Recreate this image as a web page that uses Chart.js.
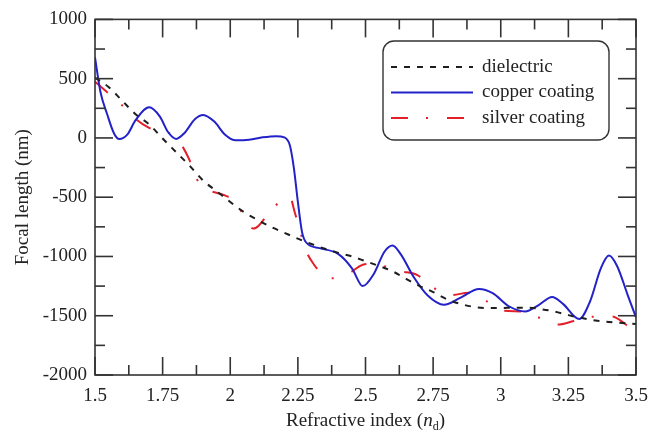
<!DOCTYPE html>
<html>
<head>
<meta charset="utf-8">
<script src="https://cdn.jsdelivr.net/npm/chart.js@4.4.1/dist/chart.umd.min.js"></script>
<style>
  html, body { margin: 0; padding: 0; background: #fff; }
  #wrap { width: 659px; height: 433px; }
</style>
</head>
<body>
<div id="wrap"><canvas id="chart" width="659" height="433"></canvas></div>
<script>
// tick labels
const xTicks = [1.5, 1.75, 2, 2.25, 2.5, 2.75, 3, 3.25, 3.5];
const xTickLabels = ['1.5', '1.75', '2', '2.25', '2.5', '2.75', '3', '3.25', '3.5'];
const yTicks = [-2000, -1500, -1000, -500, 0, 500, 1000];
const yTickLabels = ['-2000', '-1500', '-1000', '-500', '0', '500', '1000'];

// dielectric
const dielN = [1.5, 1.55, 1.6, 1.65, 1.7, 1.75, 1.8, 1.85, 1.9, 1.95, 2.0, 2.05, 2.1, 2.15, 2.2, 2.25, 2.3, 2.35, 2.4, 2.45,
  2.5, 2.55, 2.6, 2.65, 2.7, 2.75, 2.8, 2.85, 2.9, 2.95, 3.0, 3.05, 3.1, 3.15, 3.2, 3.25, 3.3, 3.35, 3.4, 3.45, 3.5];
const dielF = [510, 430, 315, 200, 115, -5, -120, -235, -360, -450, -540, -625, -690, -750, -800, -850, -895, -935, -970, -1000,
  -1040, -1080, -1125, -1190, -1250, -1300, -1360, -1400, -1425, -1435, -1435, -1432, -1432, -1445, -1465, -1495, -1520, -1540, -1553, -1562, -1570];

// copper coating
const copperN = [1.5, 1.52, 1.545, 1.57, 1.59, 1.62, 1.65, 1.7, 1.74, 1.77, 1.8, 1.83, 1.87, 1.9, 1.94, 1.98, 2.02, 2.07, 2.12, 2.17,
  2.2, 2.22, 2.235, 2.25, 2.265, 2.28, 2.33, 2.4, 2.45, 2.49, 2.53, 2.57, 2.6, 2.63, 2.68, 2.73, 2.79, 2.85, 2.92, 2.97,
  3.03, 3.09, 3.14, 3.19, 3.23, 3.29, 3.33, 3.37, 3.4, 3.43, 3.47, 3.5];
const copperF = [680, 390, 200, 40, -10, 30, 150, 258, 180, 50, -8, 40, 160, 194, 140, 30, -20, -15, 5, 15,
  5, -60, -250, -540, -790, -880, -930, -980, -1100, -1250, -1150, -960, -908, -980, -1180, -1330, -1408, -1350, -1275, -1310,
  -1420, -1464, -1410, -1342, -1400, -1528, -1380, -1100, -992, -1080, -1330, -1514];

// silver coating
const silverN = [1.5, 1.54, 1.6, 1.65, 1.7, 1.74, 1.78, 1.82, 1.85, 1.875, 1.9, 1.93, 1.98, 2.02, 2.06, 2.085, 2.105, 2.14, 2.17, 2.2,
  2.22, 2.24, 2.26, 2.28, 2.31, 2.34, 2.37, 2.4, 2.44, 2.49, 2.53, 2.58, 2.63, 2.69, 2.75, 2.79, 2.82, 2.88, 2.92, 2.95,
  3.01, 3.08, 3.14, 3.21, 3.27, 3.34, 3.41, 3.46, 3.48];
const silverF = [475, 395, 275, 160, 85, 55, 35, -60, -190, -340, -420, -450, -485, -540, -700, -765, -740, -640, -565, -510,
  -500, -640, -800, -950, -1070, -1150, -1185, -1175, -1140, -1070, -1060, -1090, -1125, -1155, -1260, -1320, -1325, -1306, -1330, -1380,
  -1458, -1464, -1515, -1575, -1545, -1508, -1505, -1570, -1610];

const toPts = (xs, ys) => xs.map((v, i) => ({ x: v, y: ys[i] }));

const FONT = 'Liberation Serif';
const INK = '#222';

// frame, inward ticks, legend box and x title
const framePlugin = {
  id: 'frame',
  afterDatasetsDraw(chart) {
    const { ctx, chartArea: a, scales: { x, y } } = chart;
    ctx.save();
    ctx.strokeStyle = '#333';
    ctx.lineWidth = 1.6;
    ctx.strokeRect(a.left, a.top, a.width, a.height);

    const seg = (x1, y1, x2, y2) => { ctx.beginPath(); ctx.moveTo(x1, y1); ctx.lineTo(x2, y2); ctx.stroke(); };

    // x ticks (major + minor halfway)
    xTicks.forEach((v, i) => {
      const px = x.getPixelForValue(v);
      seg(px, a.bottom, px, a.bottom - 18);
      seg(px, a.top, px, a.top + 18);
      if (i < xTicks.length - 1) {
        const pm = x.getPixelForValue((v + xTicks[i + 1]) / 2);
        seg(pm, a.bottom, pm, a.bottom - 10);
        seg(pm, a.top, pm, a.top + 10);
      }
    });
    // y ticks
    yTicks.forEach((v, i) => {
      const py = y.getPixelForValue(v);
      seg(a.left, py, a.left + 18, py);
      seg(a.right, py, a.right - 18, py);
      if (i < yTicks.length - 1) {
        const pm = y.getPixelForValue((v + yTicks[i + 1]) / 2);
        seg(a.left, pm, a.left + 10, pm);
        seg(a.right, pm, a.right - 10, pm);
      }
    });

    // legend
    const lx = 383, ly = 41, lw = 226, lh = 99;
    ctx.lineWidth = 1.4;
    ctx.fillStyle = '#fff';
    ctx.beginPath();
    ctx.roundRect(lx, ly, lw, lh, 11);
    ctx.fill();
    ctx.stroke();
    ctx.font = '19px "' + FONT + '"';
    ctx.textBaseline = 'middle';
    ctx.textAlign = 'left';
    chart.data.datasets.forEach((ds, i) => {
      const ry = 67 + i * 25.5;
      ctx.strokeStyle = ds.borderColor;
      ctx.lineWidth = ds.borderWidth;
      ctx.setLineDash(ds.borderDash || []);
      seg(391, ry, 473, ry);
      ctx.setLineDash([]);
      ctx.fillStyle = INK;
      ctx.fillText(ds.label, 482, ry);
    });

    // x axis title with italic n and subscript d
    const cx = (a.left + a.right) / 2;
    const ty = 420;
    const p1 = 'Refractive index (';
    ctx.font = '19px "' + FONT + '"';
    const w1 = ctx.measureText(p1).width;
    ctx.font = 'italic 19px "' + FONT + '"';
    const w2 = ctx.measureText('n').width;
    ctx.font = '12px "' + FONT + '"';
    const w3 = ctx.measureText('d').width;
    ctx.font = '19px "' + FONT + '"';
    const w4 = ctx.measureText(')').width;
    let tx = cx - (w1 + w2 + w3 + w4) / 2;
    ctx.fillStyle = INK;
    ctx.textBaseline = 'alphabetic';
    const base = ty + 6;
    ctx.fillText(p1, tx, base); tx += w1;
    ctx.font = 'italic 19px "' + FONT + '"';
    ctx.fillText('n', tx, base); tx += w2;
    ctx.font = '12px "' + FONT + '"';
    ctx.fillText('d', tx, base + 4); tx += w3;
    ctx.font = '19px "' + FONT + '"';
    ctx.fillText(')', tx, base);
    ctx.restore();
  }
};

new Chart(document.getElementById('chart'), {
  type: 'line',
  data: {
    datasets: [
      {
        label: 'dielectric',
        data: toPts(dielN, dielF),
        borderColor: '#1e1e1e',
        borderWidth: 2,
        borderDash: [6, 7],
        pointRadius: 0,
        cubicInterpolationMode: 'monotone'
      },
      {
        label: 'copper coating',
        data: toPts(copperN, copperF),
        borderColor: '#2222c8',
        borderWidth: 2,
        pointRadius: 0,
        cubicInterpolationMode: 'monotone'
      },
      {
        label: 'silver coating',
        data: toPts(silverN, silverF),
        borderColor: '#e3202a',
        borderWidth: 2,
        borderDash: [17, 18, 2, 19],
        pointRadius: 0,
        cubicInterpolationMode: 'monotone'
      }
    ]
  },
  options: {
    responsive: false,
    animation: false,
    layout: { padding: { top: 15, right: 23, left: 0, bottom: 0 } },
    plugins: {
      legend: { display: false },
      tooltip: { enabled: false }
    },
    scales: {
      x: {
        type: 'linear',
        min: 1.5,
        max: 3.5,
        afterFit: (s) => { s.height = 58; },
        afterBuildTicks: (s) => { s.ticks = xTicks.map(v => ({ value: v })); },
        grid: { display: false, drawTicks: false, tickLength: 0 },
        border: { display: false },
        ticks: {
          color: INK,
          padding: 10,
          maxRotation: 0,
          autoSkip: false,
          font: { family: FONT, size: 19 },
          callback: (v) => xTickLabels[xTicks.indexOf(v)]
        }
      },
      y: {
        type: 'linear',
        min: -2000,
        max: 1000,
        afterFit: (s) => { s.width = 95; },
        afterBuildTicks: (s) => { s.ticks = yTicks.map(v => ({ value: v })); },
        grid: { display: false, drawTicks: false, tickLength: 0 },
        border: { display: false },
        ticks: {
          color: INK,
          padding: 8,
          autoSkip: false,
          font: { family: FONT, size: 19 },
          callback: (v) => yTickLabels[yTicks.indexOf(v)]
        },
        title: {
          display: true,
          text: 'Focal length (nm)',
          color: INK,
          padding: { top: 12, bottom: 0 },
          font: { family: FONT, size: 19 }
        }
      }
    }
  },
  plugins: [framePlugin]
});
</script>
</body>
</html>
